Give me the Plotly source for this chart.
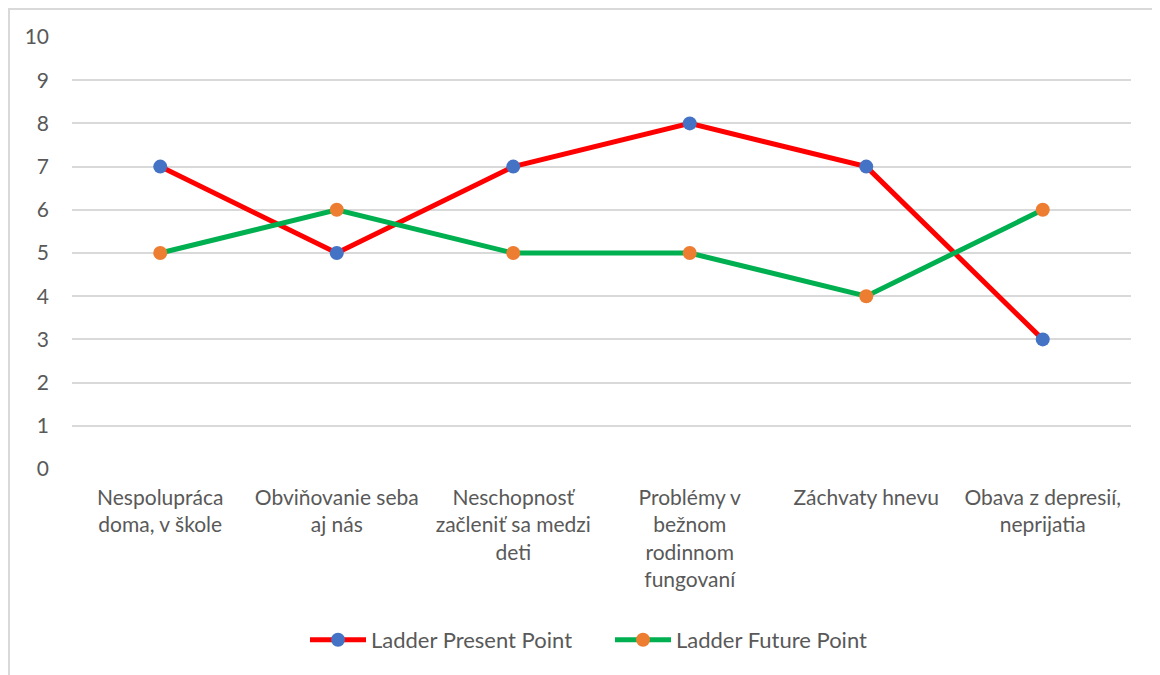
import plotly.graph_objects as go

categories = [
    "Nespolupráca<br>doma, v škole",
    "Obviňovanie seba<br>aj nás",
    "Neschopnosť<br>začleniť sa medzi<br>deti",
    "Problémy v<br>bežnom<br>rodinnom<br>fungovaní",
    "Záchvaty hnevu",
    "Obava z depresií,<br>neprijatia",
]
present = [7, 5, 7, 8, 7, 3]
future = [5, 6, 5, 5, 4, 6]
y_ticks = list(range(0, 11))

FONT = "Lato, Calibri, Carlito, sans-serif"
TXT = "#595959"

fig = go.Figure()
fig.add_trace(go.Scatter(
    x=categories, y=present, name="Ladder Present Point", mode="lines+markers",
    line=dict(color="#FF0000", width=5),
    marker=dict(color="#4472C4", size=14),
))
fig.add_trace(go.Scatter(
    x=categories, y=future, name="Ladder Future Point", mode="lines+markers",
    line=dict(color="#00B050", width=5),
    marker=dict(color="#ED7D31", size=14),
))

# page body has an 8px margin, so figure coords = screen coords - 8
W, H = 1160, 675
L, T = 64, 29
pw, ph = 1059, 432
R, B = W - L - pw, H - T - ph

fig.update_layout(
    width=W, height=H,
    margin=dict(l=L, r=R, t=T, b=B, pad=0),
    paper_bgcolor="white", plot_bgcolor="white",
    font=dict(family=FONT, size=21, color=TXT),
    showlegend=True,
    legend=dict(orientation="h", x=0.5 + 8.5 / pw, xanchor="center",
                y=-(632 - (T + ph)) / ph,
                yanchor="middle", font=dict(size=22, color=TXT), itemwidth=56,
                entrywidth=234, entrywidthmode="pixels", tracegroupgap=0),
    xaxis=dict(showgrid=False, showline=False, zeroline=False, ticks="",
               range=[-0.5, len(categories) - 0.5], ticklabelstandoff=14,
               tickfont=dict(size=21, color=TXT), fixedrange=True),
    yaxis=dict(range=[0, 10], tickvals=y_ticks, showgrid=True, gridcolor="#D9D9D9",
               gridwidth=1.5, zeroline=False, showline=False, ticks="", ticklabelstandoff=22,
               tickfont=dict(size=21, color=TXT), fixedrange=True),
    shapes=[dict(type="rect", xref="paper", yref="paper",
                 x0=(1 - L) / pw, x1=(1151 - L) / pw,
                 y0=-(H - T - ph + 20) / ph, y1=1 + (T - 1) / ph,
                 line=dict(color="#D9D9D9", width=2), layer="below")],
)

fig.write_html("out.html")
